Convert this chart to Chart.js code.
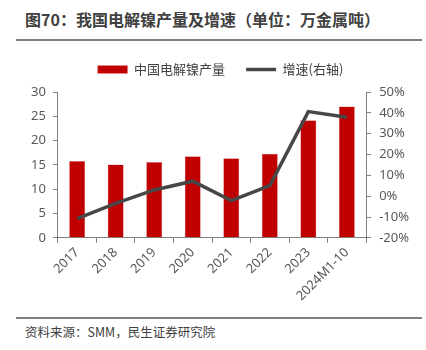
<!DOCTYPE html>
<html>
<head>
<meta charset="utf-8">
<script src="https://cdn.jsdelivr.net/npm/chart.js@4.4.1/dist/chart.umd.min.js"></script>
<style>
  html, body { margin: 0; padding: 0; background: #fff; }
  body { width: 426px; height: 350px; position: relative; overflow: hidden;
         font-family: "Noto Sans CJK SC", "Noto Sans", sans-serif; }
  #title { position: absolute; left: 25px; top: 7px; font-size: 16px; font-weight: bold;
           color: #404040; white-space: nowrap; }
  .rule { position: absolute; left: 16px; width: 406px; height: 2px; background: #7f7f7f; }
  #source { position: absolute; left: 25px; top: 322px; font-size: 12.5px; color: #404040; white-space: nowrap; }
  #wrap { position: absolute; left: 0; top: 42px; width: 426px; height: 274px; }
</style>
</head>
<body>
<div id="title">图70：我国电解镍产量及增速（单位：万金属吨）</div>
<div class="rule" style="top:39px"></div>
<div id="wrap"><canvas id="chart"></canvas></div>
<div class="rule" style="top:317px"></div>
<div id="source">资料来源：SMM，民生证券研究院</div>

<script>
// Chart data
const years = ['2017', '2018', '2019', '2020', '2021', '2022', '2023', '2024M1-10'];
const output = [15.8, 15.1, 15.6, 16.8, 16.4, 17.3, 24.2, 27.0];   // 万金属吨
const growth = [-10.8, -3.4, 3.0, 7.2, -2.1, 5.1, 40.6, 37.9];      // %

const tickFont = { family: 'Noto Sans, Noto Sans CJK SC', size: 13 };
const axisColor = '#808080';

// Extra space under the legend
const legendGap = {
    id: 'legendGap',
    beforeInit(chart) {
        const fit = chart.legend.fit;
        chart.legend.fit = function () {
            fit.bind(chart.legend)();
            this.height += 6;
        };
    }
};

function createNickelChart() {
    const ctx = document.getElementById('chart');
    if (!ctx) {
        console.warn('Chart canvas not found');
        return;
    }

    const data = {
        labels: years,
        datasets: [{
            type: 'bar',
            label: '中国电解镍产量',
            data: output,
            backgroundColor: '#C00000',
            borderColor: '#E88C8C',
            borderWidth: 0.5,
            categoryPercentage: 0.8,
            barPercentage: 0.52,
            yAxisID: 'y',
            order: 2,
            pointStyle: 'rect'
        }, {
            type: 'line',
            label: '增速(右轴)',
            data: growth,
            borderColor: '#474747',
            backgroundColor: '#474747',
            borderWidth: 3.5,
            pointRadius: 0,
            tension: 0,
            yAxisID: 'y1',
            order: 1,
            pointStyle: 'line'
        }]
    };

    const config = {
        data: data,
        plugins: [legendGap],
        options: {
            responsive: true,
            maintainAspectRatio: false,
            animation: false,
            layout: { padding: { left: 24, right: 9, top: 0, bottom: 10 } },
            plugins: {
                legend: {
                    position: 'top',
                    labels: {
                        usePointStyle: true,
                        pointStyleWidth: 30,
                        boxHeight: 8,
                        padding: 21,
                        color: '#404040',
                        font: { family: 'Noto Sans CJK SC', size: 13 },
                        sort: (a, b) => a.datasetIndex - b.datasetIndex
                    }
                },
                tooltip: { enabled: false }
            },
            scales: {
                x: {
                    grid: { display: true, drawOnChartArea: false, offset: true, tickLength: 5, color: axisColor },
                    border: { color: axisColor, width: 1 },
                    ticks: { color: '#595959', font: tickFont, minRotation: 45, maxRotation: 45, padding: 2 }
                },
                y: {
                    position: 'left',
                    min: 0, max: 30,
                    grid: { drawOnChartArea: false, tickLength: 5, color: axisColor },
                    border: { color: axisColor, width: 1 },
                    ticks: { stepSize: 5, color: '#595959', font: tickFont, padding: 7 }
                },
                y1: {
                    position: 'right',
                    min: -20, max: 50,
                    grid: { drawOnChartArea: false, tickLength: 5, color: axisColor },
                    border: { color: axisColor, width: 1 },
                    ticks: { stepSize: 10, color: '#595959', font: tickFont, padding: 8,
                             callback: (v) => v + '%' }
                }
            }
        }
    };

    try {
        new Chart(ctx, config);
    } catch (error) {
        console.error('Error creating chart:', error);
    }
}

createNickelChart();
</script>
</body>
</html>
